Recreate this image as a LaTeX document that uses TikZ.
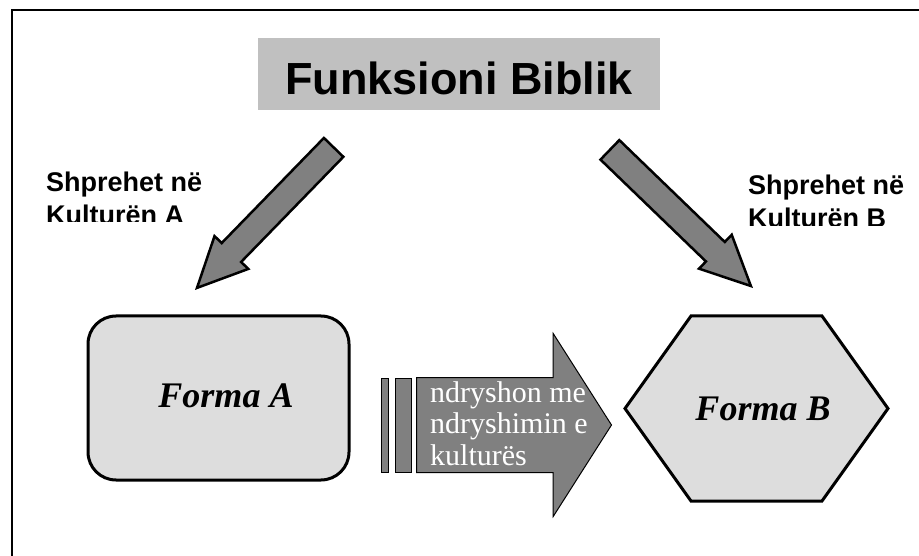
\documentclass[tikz,border=0pt]{standalone}
\usepackage{fontspec}
\setmainfont{Liberation Serif}
\setsansfont{Liberation Sans}
\usepackage{tikz}
\usetikzlibrary{shapes}
\usetikzlibrary{shapes.arrows,calc}
\definecolor{titlegrey}{RGB}{192,192,192}
\definecolor{formgrey}{RGB}{221,221,221}
\definecolor{arrowgrey}{RGB}{128,128,128}
\tikzstyle{titlebox}=[shape=rectangle,fill=titlegrey,minimum width=402pt,minimum height=72pt,font=\sffamily\bfseries\fontsize{45}{50}\selectfont]
\tikzstyle{formbox}=[line width=3pt,draw=black,fill=formgrey]
\tikzstyle{formtext}=[font=\rmfamily\bfseries\itshape\fontsize{36}{40}\selectfont]
\tikzstyle{culture}=[anchor=north west,inner sep=0pt,align=left,font=\sffamily\bfseries\fontsize{27}{33}\selectfont]
\tikzstyle{bigarrow}=[single arrow,draw=black,line width=2.5pt,fill=arrowgrey,inner xsep=0pt,inner ysep=12.3pt,minimum height=196pt,single arrow head extend=10pt,single arrow tip angle=51,anchor=tail]
\tikzstyle{stripe}=[shape=rectangle,draw=black,line width=1pt,fill=arrowgrey,inner sep=0pt,minimum height=94pt]

\begin{document}
\begin{tikzpicture}[x=1pt,y=-1pt]
 \useasboundingbox (0,0) rectangle (919,556);
 \draw[line width=1.5pt] (12,556) -- (12,10) -- (919,10);

 \node[titlebox] (title) at (459,74) {\raisebox{-4pt}[\height][\depth]{Funksioni Biblik}};

 % labels are cut at the bottom
 \begin{scope}
 \clip (0,0) rectangle (460,222);
 \node[culture] (kulturaA) at (46,172) {Shprehet në\\Kulturën A};
 \end{scope}
 \begin{scope}
 \clip (460,0) rectangle (919,226);
 \node[culture] (kulturaB) at (748,175) {Shprehet në\\Kulturën B};
 \end{scope}

 \node[bigarrow,rotate=225.8] (shigjetaA) at (334.5,146.5) {};
 \node[bigarrow,rotate=-44] (shigjetaB) at (609,149) {};

 \node[formbox,shape=rectangle,rounded corners=28pt,minimum width=261pt,minimum height=164pt] (formaA) at (218.5,398) {};
 \node[formtext] (tekstA) at (226,396) {Forma A};

 \draw[formbox] (625,408.5) -- (691,316) -- (822,316) -- (888,408.5) -- (822,501) -- (691,501) -- cycle;
 \node[formtext] (formaB) at (763,409) {Forma B};

 \node[stripe,minimum width=7pt] (vija1) at (384.5,425) {};
 \node[stripe,minimum width=16pt] (vija2) at (403,425) {};
 \node[single arrow,draw=black,line width=1pt,fill=arrowgrey,inner xsep=0pt,inner ysep=47pt,minimum height=195pt,single arrow head extend=44pt,single arrow tip angle=115,anchor=tail] (ndryshim) at (416,425) {};
 \node[anchor=north west,inner sep=0pt,align=left,text=white,font=\rmfamily\fontsize{30}{31.5}\selectfont] (ndryshimtekst) at (430,381) {ndryshon me\\ndryshimin e\\kulturës};
\end{tikzpicture}
\end{document}
